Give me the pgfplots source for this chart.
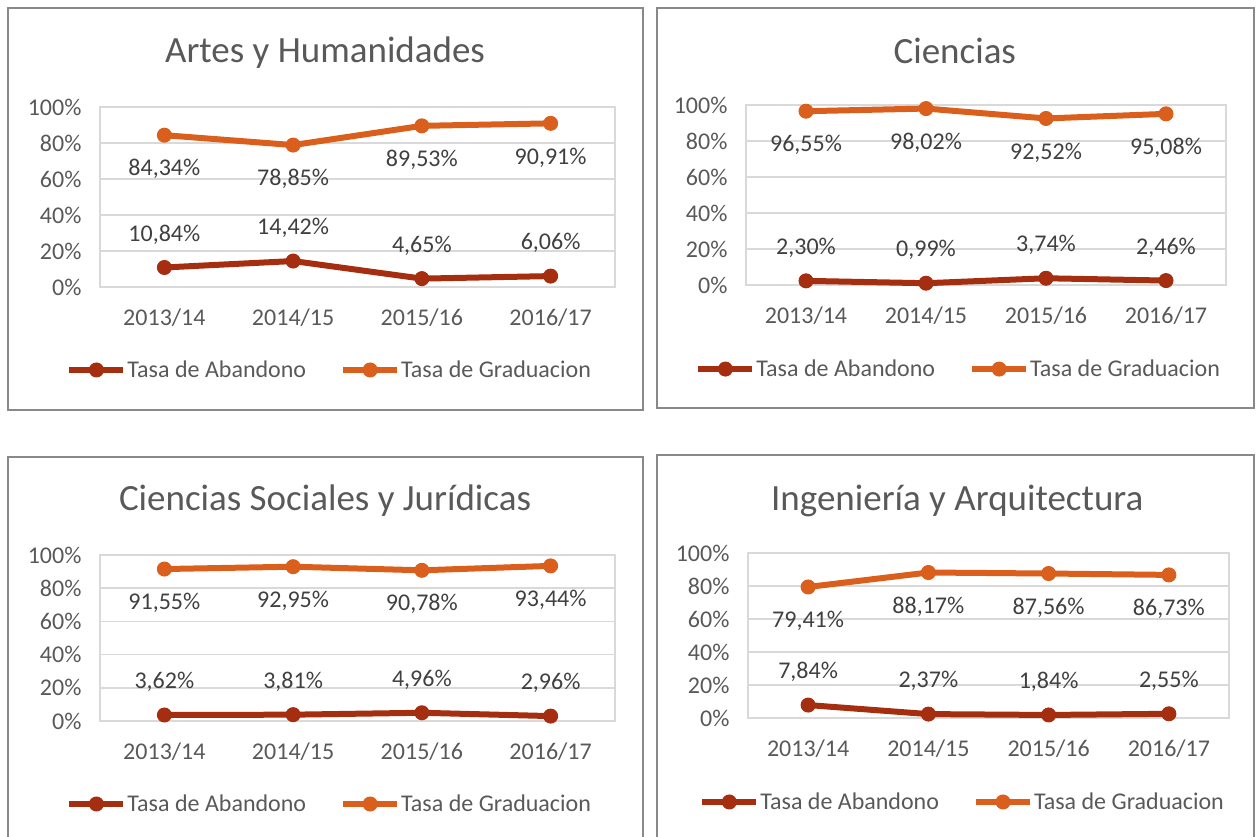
\documentclass[border=0pt]{standalone}
\usepackage{fontspec}
\setmainfont{Carlito}
\usepackage{pgfplots}
\pgfplotsset{compat=1.18}
\definecolor{aband}{RGB}{166,46,16}
\definecolor{grad}{RGB}{218,95,28}
\definecolor{txt}{RGB}{89,89,89}
\definecolor{lbl}{RGB}{64,64,64}
\definecolor{gridc}{RGB}{217,217,217}
\definecolor{framec}{RGB}{137,137,137}

\pgfplotsset{
  legend image code/.code={\draw[#1, mark repeat=2, mark phase=2] plot coordinates {(0pt,0pt) (27pt,0pt) (54pt,0pt)};},
  panel/.style={
    scale only axis, clip=false,
    xmin=-0.5, xmax=3.5, ymin=0, ymax=100,
    xtick={0,1,2,3}, xticklabels={2013/14,2014/15,2015/16,2016/17},
    ytick={0,20,40,60,80,100}, yticklabels={0\%,20\%,40\%,60\%,80\%,100\%},
    major tick length=0pt,
    ymajorgrids, grid style={draw=gridc, line width=1.5pt},
    axis line style={draw=gridc, line width=1.5pt},
    tick label style={font=\fontsize{24}{28}\selectfont, text=txt},
    xticklabel style={anchor=center, yshift=-31pt},
    yticklabel style={anchor=east, xshift=-15pt},
    title style={font=\fontsize{37}{44}\selectfont, text=txt, anchor=center},
    legend style={draw=none, fill=none, anchor=center, legend columns=2,
      font=\fontsize{24}{28}\selectfont, text=txt,
      /tikz/every even column/.append style={column sep=33pt},
      nodes={inner sep=1pt}},
    /pgf/number format/assume math mode=true,
    nodes near coords={\pgfmathprintnumber[fixed,fixed zerofill,precision=2,use comma]{\pgfplotspointmeta}\%},
    every node near coord/.append style={font=\fontsize{24}{28}\selectfont, text=lbl, anchor=center},
  },
  ab/.style={color=aband, line width=6pt, mark=*, mark size=7pt,
    mark options={solid, line width=1pt},
    every node near coord/.append style={yshift=33pt}},
  gr/.style={color=grad, line width=6pt, mark=*, mark size=7pt,
    mark options={solid, line width=1pt},
    every node near coord/.append style={yshift=-34pt}},
}

\begin{document}
\begin{tikzpicture}
\path[use as bounding box] (0,0) rectangle (1256pt,836pt);
\draw[framec, line width=2pt] (8pt,828pt) rectangle (643pt,426pt);
\draw[framec, line width=2pt] (657pt,828pt) rectangle (1254pt,428pt);
\draw[framec, line width=2pt] (8pt,379pt) rectangle (643pt,-10pt);
\draw[framec, line width=2pt] (657pt,381pt) rectangle (1254pt,-10pt);

\begin{axis}[panel, at={(100pt,549pt)}, anchor=south west, width=515pt, height=180pt,
  title={Artes y Humanidades}, title style={at={(axis description cs:0.437,1.267)}},
  legend style={at={(axis description cs:0.445,-0.461)}}]
\addplot[ab] coordinates {(0,10.84) (1,14.42) (2,4.65) (3,6.06)};
\addplot[gr] coordinates {(0,84.34) (1,78.85) (2,89.53) (3,90.91)};
\legend{Tasa de Abandono, Tasa de Graduacion}
\end{axis}

\begin{axis}[panel, at={(746pt,551pt)}, anchor=south west, width=480pt, height=180pt,
  title={Ciencias}, title style={at={(axis description cs:0.435,1.267)}},
  legend style={at={(axis description cs:0.442,-0.467)}}]
\addplot[ab] coordinates {(0,2.30) (1,0.99) (2,3.74) (3,2.46)};
\addplot[gr] coordinates {(0,96.55) (1,98.02) (2,92.52) (3,95.08)};
\legend{Tasa de Abandono, Tasa de Graduacion}
\end{axis}

\begin{axis}[panel, at={(100pt,115pt)}, anchor=south west, width=515pt, height=166pt,
  title={Ciencias Sociales y Jurídicas}, title style={at={(axis description cs:0.437,1.289)}},
  legend style={at={(axis description cs:0.445,-0.5)}}]
\addplot[ab] coordinates {(0,3.62) (1,3.81) (2,4.96) (3,2.96)};
\addplot[gr] coordinates {(0,91.55) (1,92.95) (2,90.78) (3,93.44)};
\legend{Tasa de Abandono, Tasa de Graduacion}
\end{axis}

\begin{axis}[panel, at={(748pt,118pt)}, anchor=south west, width=481pt, height=165pt,
  title={Ingeniería y Arquitectura}, title style={at={(axis description cs:0.435,1.279)}},
  legend style={at={(axis description cs:0.445,-0.509)}}]
\addplot[ab] coordinates {(0,7.84) (1,2.37) (2,1.84) (3,2.55)};
\addplot[gr] coordinates {(0,79.41) (1,88.17) (2,87.56) (3,86.73)};
\legend{Tasa de Abandono, Tasa de Graduacion}
\end{axis}
\end{tikzpicture}
\end{document}
